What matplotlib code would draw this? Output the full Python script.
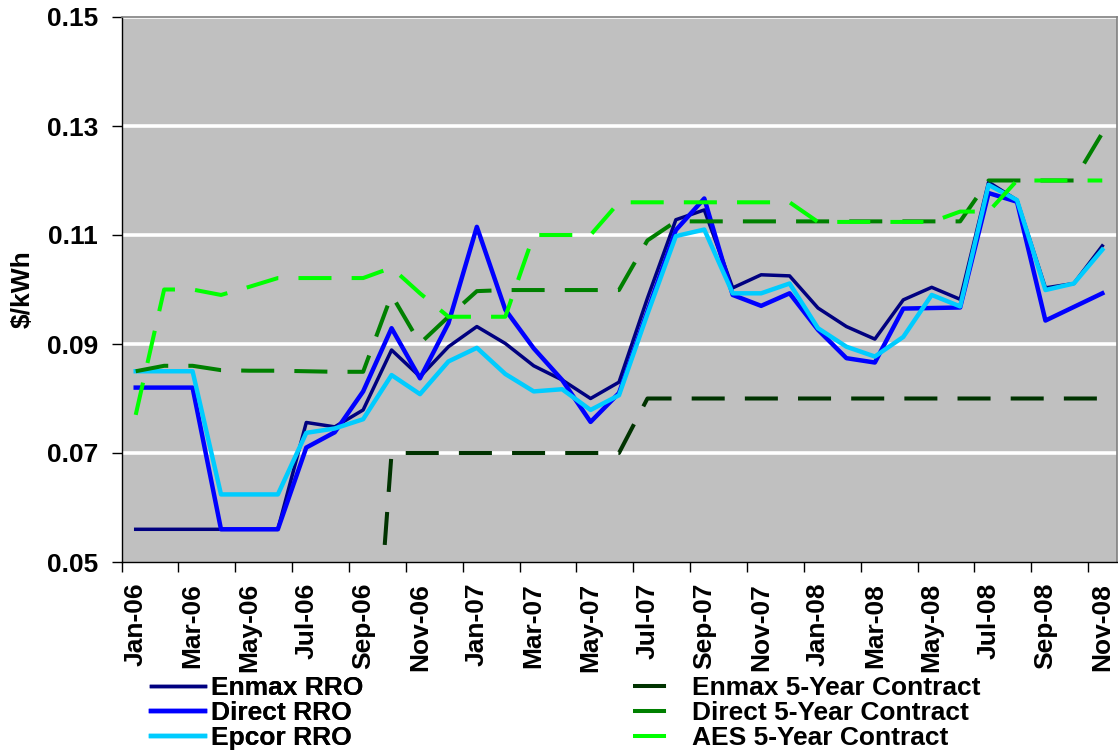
import numpy as np
import matplotlib
matplotlib.use("Agg")
import matplotlib.pyplot as plt
from matplotlib.ticker import FixedLocator, FixedFormatter

# Monthly categories Jan-06 .. Nov-08
months = ["Jan-06", "Feb-06", "Mar-06", "Apr-06", "May-06", "Jun-06", "Jul-06", "Aug-06",
          "Sep-06", "Oct-06", "Nov-06", "Dec-06", "Jan-07", "Feb-07", "Mar-07", "Apr-07",
          "May-07", "Jun-07", "Jul-07", "Aug-07", "Sep-07", "Oct-07", "Nov-07", "Dec-07",
          "Jan-08", "Feb-08", "Mar-08", "Apr-08", "May-08", "Jun-08", "Jul-08", "Aug-08",
          "Sep-08", "Oct-08", "Nov-08"]

# Regulated rate option prices ($/kWh)
enmax_rro = [0.056, 0.056, 0.056, 0.056, 0.056, 0.056, 0.0756, 0.0748, 0.0779, 0.0889,
             0.0840, 0.0895, 0.0932, 0.0901, 0.0860, 0.0834, 0.0800, 0.0830, 0.0984, 0.1128,
             0.1146, 0.1003, 0.1027, 0.1025, 0.0966, 0.0932, 0.0909, 0.0981, 0.1004, 0.0982,
             0.1197, 0.1164, 0.1003, 0.1011, 0.1080]
direct_rro = [0.082, 0.082, 0.082, 0.056, 0.056, 0.056, 0.0710, 0.0738, 0.0813, 0.0929,
              0.0837, 0.0938, 0.1115, 0.0963, 0.0892, 0.0834, 0.0757, 0.0810, 0.0960, 0.1109,
              0.1167, 0.0990, 0.0970, 0.0993, 0.0926, 0.0874, 0.0866, 0.0965, 0.0966, 0.0967,
              0.1177, 0.1161, 0.0943, 0.0968, 0.0993]
epcor_rro = [0.085, 0.085, 0.085, 0.0624, 0.0624, 0.0624, 0.0737, 0.0745, 0.0762, 0.0843,
             0.0808, 0.0868, 0.0893, 0.0845, 0.0813, 0.0817, 0.0779, 0.0806, 0.0955, 0.1098,
             0.1110, 0.0993, 0.0993, 0.1011, 0.0929, 0.0895, 0.0877, 0.0913, 0.0990, 0.0969,
             0.1192, 0.1164, 0.0999, 0.1011, 0.1073]

# Five-year fixed contract prices ($/kWh); 0 = not offered yet
enmax_5yr = [0, 0, 0, 0, 0, 0, 0, 0, 0, 0.07,
             0.07, 0.07, 0.07, 0.07, 0.07, 0.07, 0.07, 0.07, 0.08, 0.08,
             0.08, 0.08, 0.08, 0.08, 0.08, 0.08, 0.08, 0.08, 0.08, 0.08,
             0.08, 0.08, 0.08, 0.08, 0.08]
direct_5yr = [0.085, 0.086, 0.086, 0.0852, 0.0851, 0.0851, 0.0850, 0.0849, 0.0849, 0.0990,
              0.0901, 0.0950, 0.0997, 0.0999, 0.0999, 0.0999, 0.0999, 0.0999, 0.1090, 0.1125,
              0.1125, 0.1125, 0.1125, 0.1125, 0.1125, 0.1125, 0.1125, 0.1125, 0.1125, 0.1125,
              0.1200, 0.1200, 0.1200, 0.1200, 0.1287]
aes_5yr = [0.077, 0.100, 0.100, 0.099, 0.1005, 0.1021, 0.1021, 0.1021, 0.1021, 0.1040,
           0.0993, 0.0950, 0.0950, 0.0950, 0.1100, 0.1100, 0.1100, 0.1160, 0.1160, 0.1160,
           0.1160, 0.1160, 0.1160, 0.1160, 0.1124, 0.1124, 0.1124, 0.1124, 0.1124, 0.1143,
           0.1143, 0.1200, 0.1200, 0.1200, 0.1200]

y_ticks = [0.05, 0.07, 0.09, 0.11, 0.13, 0.15]

plt.rcParams["font.family"] = ["Liberation Sans", "DejaVu Sans"]
plt.rcParams["font.weight"] = "bold"
FS = 19

W, H = 1118, 756
fig = plt.figure(figsize=(W / 100, H / 100), dpi=100)
ax = fig.add_axes([121.5 / W, 1 - 562 / H, 995 / W, (562 - 17) / H])
ax.set_facecolor("#C0C0C0")

x = np.arange(len(months))

solid = [
    ("Enmax RRO", enmax_rro, "#000080", 2.5),
    ("Direct RRO", direct_rro, "#0000FF", 3.2),
    ("Epcor RRO", epcor_rro, "#00CCFF", 3.2),
]
dashed = [
    ("Enmax 5-Year Contract", enmax_5yr, "#003300"),
    ("Direct 5-Year Contract", direct_5yr, "#008000"),
    ("AES 5-Year Contract", aes_5yr, "#00FF00"),
]

solid_handles = []
for name, vals, col, lw in solid:
    ln, = ax.plot(x, vals, color=col, lw=lw, label=name, zorder=3)
    solid_handles.append(ln)

dash_handles = []
for name, vals, col in dashed:
    ln, = ax.plot(x, vals, color=col, lw=2.9, label=name, zorder=4,
                  dashes=(8.2, 5.0))
    dash_handles.append(ln)

ax.set_xlim(-0.5, len(months) - 0.5)
ax.set_ylim(0.05, 0.15)

# category labels every other month, tick marks on category boundaries
ax.xaxis.set_major_locator(FixedLocator(x[::2]))
ax.xaxis.set_major_formatter(FixedFormatter(months[::2]))
ax.xaxis.set_minor_locator(FixedLocator(np.arange(-0.5, len(months) - 0.5, 2)))
ax.tick_params(axis="x", which="major", length=0, pad=15, labelsize=FS, rotation=90)
ax.tick_params(axis="x", which="minor", length=7, width=1, color="black", direction="out")

ax.set_yticks(y_ticks)
ax.set_yticklabels([f"{v:.2f}" for v in y_ticks])
ax.tick_params(axis="y", length=7, width=1, color="black", direction="out", pad=10,
               labelsize=FS)

ax.set_axisbelow(True)
ax.yaxis.grid(True, color="white", lw=2.6)
ax.yaxis.get_gridlines()[0].set_visible(False)

for s in ("top", "right"):
    ax.spines[s].set_color("#808080")
    ax.spines[s].set_linewidth(1.2)
for s in ("left", "bottom"):
    ax.spines[s].set_color("black")
    ax.spines[s].set_linewidth(1.0)

ax.set_ylabel("$/kWh", fontsize=FS, fontweight="bold")
ax.yaxis.set_label_coords(-0.087, 0.5)

fs_px = FS * 100 / 72
leg1 = fig.legend(handles=solid_handles, loc="center left",
                  bbox_to_anchor=(151 / W, 1 - 713 / H), frameon=False,
                  fontsize=FS, handlelength=54 / fs_px, handletextpad=6 / fs_px,
                  labelspacing=0.03, borderpad=0, borderaxespad=0)
leg2 = fig.legend(handles=dash_handles, loc="center left",
                  bbox_to_anchor=(633 / W, 1 - 713 / H), frameon=False,
                  fontsize=FS, handlelength=35 / fs_px, handletextpad=24 / fs_px,
                  labelspacing=0.03, borderpad=0, borderaxespad=0)
fig.add_artist(leg1)

fig.savefig("out.png", dpi=100)
